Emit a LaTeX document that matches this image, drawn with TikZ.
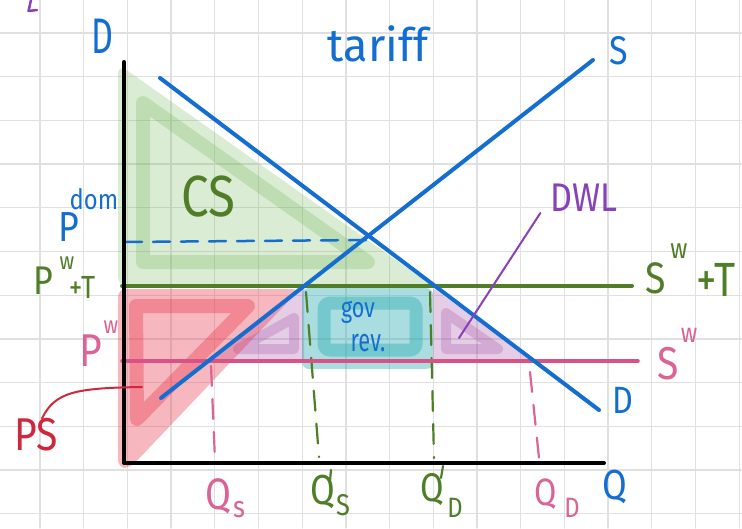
\documentclass[tikz,border=0pt]{standalone}
\usepackage{fontspec}
\setmainfont{Fira Sans}
\newcommand\myfs[1]{\fontsize{#1}{#1}\selectfont}
\definecolor{pblue}{RGB}{20,110,210}
\definecolor{pgreen}{RGB}{80,125,40}
\definecolor{ppink}{RGB}{214,82,135}
\definecolor{tpink}{RGB}{218,100,150}
\definecolor{pred}{RGB}{205,40,60}
\definecolor{ppurple}{RGB}{135,65,185}
\definecolor{gridc}{RGB}{224,224,224}
\definecolor{csfill}{RGB}{110,180,80}
\definecolor{psfill}{RGB}{232,50,70}
\definecolor{tealfill}{RGB}{40,170,175}
\definecolor{purfill}{RGB}{170,90,170}
\begin{document}
\begin{tikzpicture}[x=1pt,y=-1pt,line cap=round,line join=round,
  lab/.style={inner sep=0pt,xscale=0.85},
  curveline/.style={line width=4pt,pblue},
  zonefill/.style={fill opacity=#1},
  zoneline/.style={draw opacity=#1},
  dashv/.style={line width=2.2pt,dash pattern=on 20pt off 13pt}]
\useasboundingbox (0,0) rectangle (742,528);
\fill[white] (0,0) rectangle (742,528);
% grid
\foreach \k in {-1,...,16}{\draw[gridc,line width=1.3pt] ({40+43.7*\k},0) -- ({40+43.7*\k},528);}
\foreach \k in {-1,...,11}{\draw[gridc,line width=1.3pt] (0,{33+43.7*\k}) -- (742,{33+43.7*\k});}
% key points
\coordinate (ytop) at (124,62);
\coordinate (orig) at (124,463);
\coordinate (xend) at (604,463);
\coordinate (d0) at (160,78);
\coordinate (d1) at (599,410);
\coordinate (s0) at (161,398);
\coordinate (s1) at (593,60);
\coordinate (t0) at (122,286);
\coordinate (t1) at (632,286);
\coordinate (w0) at (122,361);
\coordinate (w1) at (638,361);
\coordinate (pd0) at (125,242);
\coordinate (pd1) at (366,240);
% CS
\fill[csfill,zonefill=0.25,rounded corners=10pt] (118,64) -- (118,287) -- (434,287) -- cycle;
\draw[csfill,zoneline=0.25,line width=14pt] (143,103) -- (143,262) -- (368,262) -- cycle;
% purple left
\fill[purfill,zonefill=0.3] (208,361) -- (304,287) -- (304,361) -- cycle;
\draw[purfill,zoneline=0.3,line width=10pt] (238,349) -- (294,349) -- (294,318) -- cycle;
% PS
\fill[psfill,zonefill=0.35,rounded corners=8pt] (118,289) -- (300,289) -- (130,468) -- (118,468) -- cycle;
\draw[psfill,zoneline=0.35,line width=14pt] (136,306) -- (248,306) -- (137,419) -- cycle;
% gov rev
\fill[tealfill,zonefill=0.4,rounded corners=7pt] (302,288) rectangle (433,369);
\draw[tealfill,zoneline=0.4,line width=13pt,rounded corners=6pt] (324,303) rectangle (416,350);
% purple right
\fill[purfill,zonefill=0.3] (433,288) -- (433,362) -- (535,362) -- cycle;
\draw[purfill,zoneline=0.3,line width=10pt] (446,313) -- (446,349) -- (498,349) -- cycle;
% dashed guides
\draw[pblue,line width=2.5pt,dash pattern=on 17pt off 11pt] (pd0) -- (pd1);
\draw[tpink,dashv] (211,366) -- (215,460);
\draw[pgreen,dashv] (306,292) -- (319,457);
\draw[pgreen,line width=2.2pt] (331,470) -- (330,481);
\draw[pgreen,dashv] (430,292) -- (434,458);
\draw[pgreen,line width=2.2pt] (443,466) -- (441,478);
\draw[tpink,dashv] (530,372) -- (539,458);
% curves
\draw[pgreen,line width=4pt] (t0) -- (t1);
\draw[ppink,line width=3.5pt] (w0) -- (w1);
\draw[curveline] (d0) -- (d1);
\draw[curveline] (s0) -- (s1);
\draw[black,line width=4pt] (ytop) -- (orig) -- (xend);
% stray mark
\draw[ppurple,line width=2.5pt] (31,0) -- (28.5,11) -- (37,10);
% labels
\node[lab,pblue,font=\myfs{50},xscale=0.8] (lP) at (102,36) {D};
\node[lab,pblue,font=\myfs{46},xscale=1.15] (ltariff) at (378,44) {tariff};
\node[lab,pblue,font=\myfs{40}] (lS) at (619,51) {S};
\node[lab,pblue,font=\myfs{38}] (lD) at (623,400) {D};
\node[lab,pblue,font=\myfs{42}] (lQ) at (615,487) {Q};
\node[lab,pgreen,font=\myfs{58}] (lCS) at (208,197) {CS};
\node[lab,pblue,font=\myfs{42}] (lPdom) at (69,227) {P};
\node[lab,pblue,font=\myfs{28}] (ldom) at (94,199) {dom};
\node[lab,pgreen,font=\myfs{40}] (lPt) at (43,281) {P};
\node[lab,pgreen,font=\myfs{24}] (lPtw) at (67,263) {w};
\node[lab,pgreen,font=\myfs{32}] (lPtT) at (82,287) {+T};
\node[lab,tpink,font=\myfs{46}] (lPw) at (91,351) {P};
\node[lab,tpink,font=\myfs{24}] (lPww) at (111,327) {w};
\node[lab,pred,font=\myfs{46}] (lPS) at (36,435) {PS};
\node[lab,pblue,font=\myfs{28},xscale=0.9] (lgov) at (358,312) {gov};
\node[lab,pblue,font=\myfs{32},xscale=0.8] (lrev) at (368,343) {rev.};
\node[lab,ppurple,font=\myfs{40}] (lDWL) at (584,198) {DWL};
\node[lab,pgreen,font=\myfs{44}] (lSwT) at (656,278) {S};
\node[lab,pgreen,font=\myfs{28}] (lSwTw) at (679,251) {w};
\node[lab,pgreen,font=\myfs{48}] (lSwTT) at (716,280) {+T};
\node[lab,tpink,font=\myfs{46}] (lSw) at (668,364) {S};
\node[lab,tpink,font=\myfs{27}] (lSww) at (689,335) {w};
\node[lab,tpink,font=\myfs{44}] (lQs1) at (218,496) {Q};
\node[lab,tpink,font=\myfs{30}] (lQs1s) at (239,510) {s};
\node[lab,pgreen,font=\myfs{42}] (lQs2) at (323,492) {Q};
\node[lab,pgreen,font=\myfs{30}] (lQs2s) at (343,505) {S};
\node[lab,pgreen,font=\myfs{40}] (lQd1) at (432,490) {Q};
\node[lab,pgreen,font=\myfs{28}] (lQd1d) at (455,508) {D};
\node[lab,tpink,font=\myfs{38}] (lQd2) at (546,494) {Q};
\node[lab,tpink,font=\myfs{28}] (lQd2d) at (572,508) {D};
% connectors
\coordinate (psend) at (142,387);
\draw[pred,line width=2pt] ([xshift=6pt]lPS.north) .. controls (55,392) and (75,388) .. (psend);
\coordinate (dwlend) at (459,338);
\draw[ppurple,line width=2pt] ([xshift=-10pt,yshift=-1pt]lDWL.south west) -- (dwlend);
\end{tikzpicture}
\end{document}
